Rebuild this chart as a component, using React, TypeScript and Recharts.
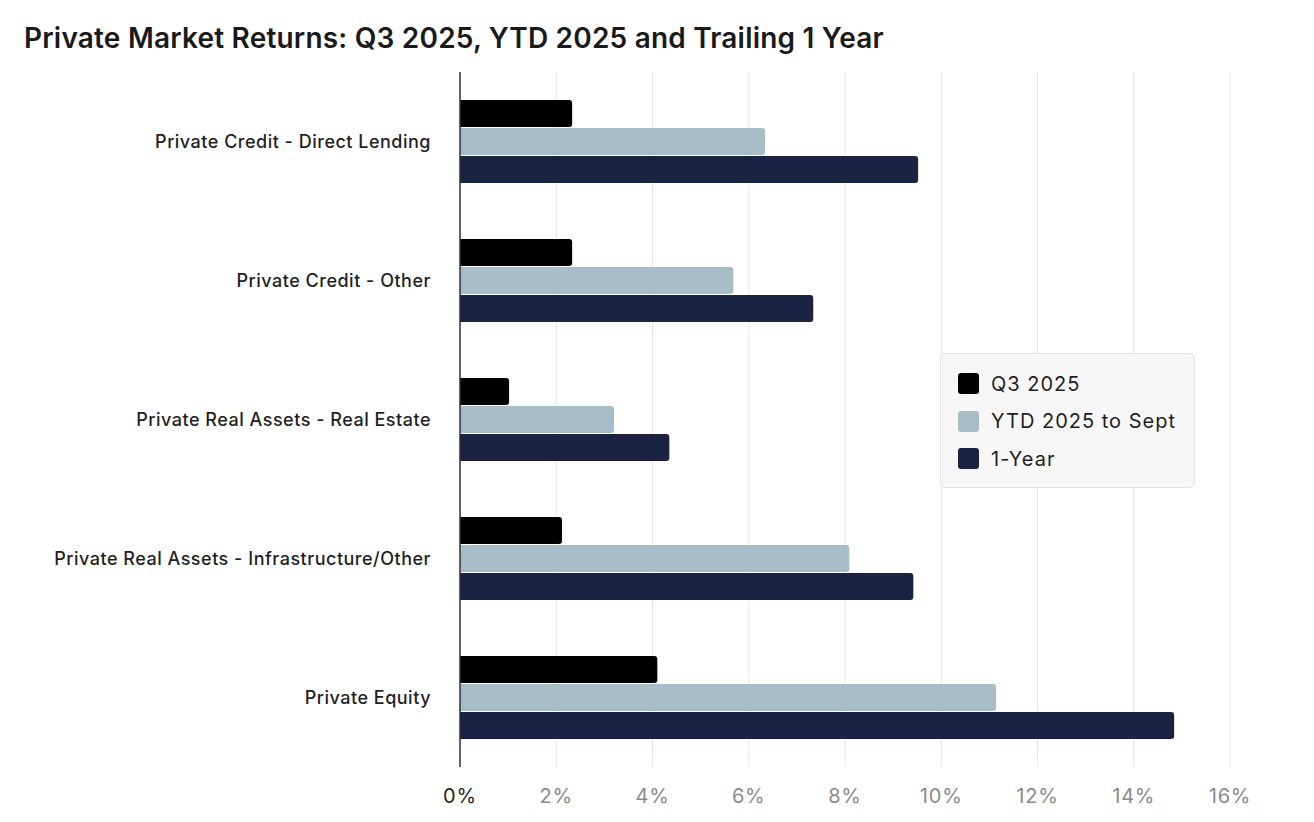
import { Bar, BarChart, CartesianGrid, Legend, XAxis, YAxis } from 'recharts'

const categories = [
  'Private Credit - Direct Lending',
  'Private Credit - Other',
  'Private Real Assets - Real Estate',
  'Private Real Assets - Infrastructure/Other',
  'Private Equity',
]
const q3_2025 = [2.33, 2.33, 1.02, 2.12, 4.1]
const ytd2025 = [6.34, 5.68, 3.2, 8.09, 11.14]
const oneYear = [9.52, 7.34, 4.35, 9.42, 14.84]
const xTicks = [0, 2, 4, 6, 8, 10, 12, 14, 16]

const seriesList = [
  { key: 'q3', name: 'Q3 2025', color: '#000000' },
  { key: 'ytd', name: 'YTD 2025 to Sept', color: '#a7bec9' },
  { key: 'oneYear', name: '1-Year', color: '#1a2342' },
]

const data = categories.map((name, i) => ({
  name,
  q3: q3_2025[i],
  ytd: ytd2025[i],
  oneYear: oneYear[i],
}))

const FONT = 'Inter, "Noto Sans", sans-serif'

const XTick = (props: any) => {
  const { x, y, payload } = props
  return (
    <text
      x={x}
      y={y}
      dy={34}
      textAnchor="middle"
      fontFamily={FONT}
      fontSize={20}
      letterSpacing={0.8}
      fill={payload.value === 0 ? '#1f1f1f' : '#8a8a8a'}
    >
      {`${payload.value}%`}
    </text>
  )
}

const LegendBox = () => (
  <div
    style={{
      width: 255,
      height: 135,
      boxSizing: 'border-box',
      background: '#f7f7f7',
      border: '1px solid #e2e2e2',
      borderRadius: 6,
      padding: '11px 17px',
      fontFamily: FONT,
    }}
  >
    {seriesList.map((s) => (
      <div key={s.key} style={{ display: 'flex', alignItems: 'center', height: 37.5 }}>
        <span
          style={{
            width: 21,
            height: 21,
            flexShrink: 0,
            borderRadius: 3,
            background: s.color,
            marginRight: 12,
            display: 'inline-block',
          }}
        />
        <span style={{ fontSize: 20, letterSpacing: 1, color: '#1f1f1f', whiteSpace: 'nowrap' }}>{s.name}</span>
      </div>
    ))}
  </div>
)

export default function App() {
  return (
    <div style={{ position: 'absolute', left: 0, top: 0, width: 1314, height: 822, background: '#fff' }}>
      <div
        style={{
          position: 'absolute',
          left: 24,
          top: 21,
          fontFamily: FONT,
          fontWeight: 600,
          fontSize: 28,
          letterSpacing: 0.2,
          color: '#1a1a1a',
          whiteSpace: 'nowrap',
        }}
      >
        Private Market Returns: Q3 2025, YTD 2025 and Trailing 1 Year
      </div>
      <BarChart
        width={1314}
        height={822}
        data={data}
        layout="vertical"
        margin={{ top: 72, right: 84, bottom: 0, left: 20 }}
        barSize={27}
        barGap={1}
      >
        <CartesianGrid horizontal={false} stroke="#e6e6e6" />
        <XAxis
          type="number"
          domain={[0, 16]}
          ticks={xTicks}
          axisLine={false}
          tickLine={false}
          tickSize={0}
          height={55}
          tick={<XTick />}
          interval={0}
        />
        <YAxis
          type="category"
          dataKey="name"
          width={440}
          axisLine={{ stroke: '#333333', strokeWidth: 1.5 }}
          tickLine={false}
          tickSize={0}
          tickMargin={29}
          tick={{ fontFamily: FONT, fontSize: 18, fontWeight: 500, fill: '#1f1f1f', letterSpacing: 0.5 }}
          interval={0}
        />
        <Legend
          layout="vertical"
          align="center"
          verticalAlign="middle"
          content={<LegendBox />}
          wrapperStyle={{ left: 940, top: 353, width: 255, height: 135 }}
        />
        {seriesList.map((s) => (
          <Bar
            key={s.key}
            dataKey={s.key}
            name={s.name}
            fill={s.color}
            radius={[0, 3, 3, 0]}
            isAnimationActive={false}
          />
        ))}
      </BarChart>
    </div>
  )
}
